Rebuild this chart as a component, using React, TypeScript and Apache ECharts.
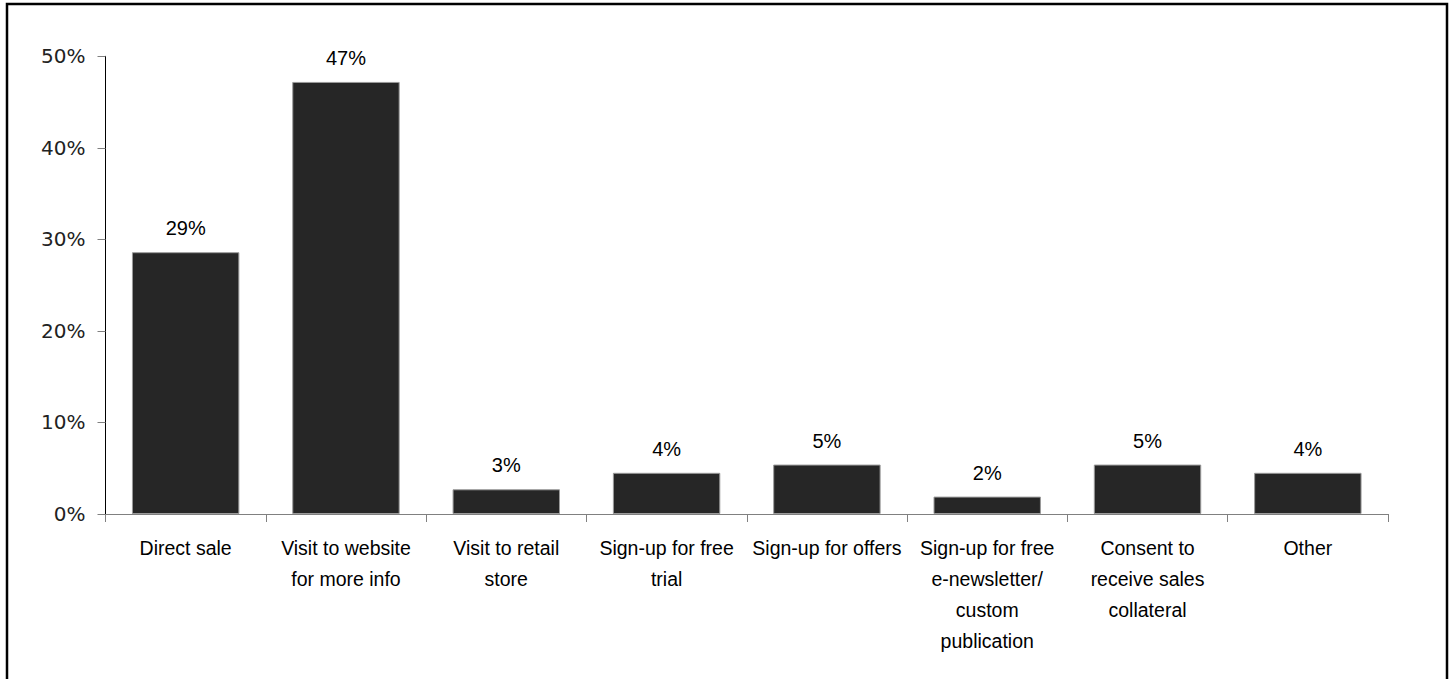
import React, { useEffect, useRef } from "react";
import * as echarts from "echarts";

const categories = [
  "Direct sale",
  "Visit to website\nfor more info",
  "Visit to retail\nstore",
  "Sign-up for free\ntrial",
  "Sign-up for offers",
  "Sign-up for free\ne-newsletter/\ncustom\npublication",
  "Consent to\nreceive sales\ncollateral",
  "Other",
];
const values = [28.6, 47.2, 2.7, 4.5, 5.4, 1.9, 5.4, 4.5];
const valueLabels = ["29%", "47%", "3%", "4%", "5%", "2%", "5%", "4%"];
const yTicks = [0, 10, 20, 30, 40, 50];

export default function App() {
  const ref = useRef<HTMLDivElement>(null);
  useEffect(() => {
    if (!ref.current) return;
    const chart = echarts.init(ref.current, null, { renderer: "svg" });
    chart.setOption({
      animation: false,
      backgroundColor: "#fff",
      graphic: [
        {
          type: "rect",
          shape: { x: 7, y: 4, width: 1440, height: 700 },
          style: { fill: "none", stroke: "#000", lineWidth: 2.5 },
          silent: true,
        },
      ],
      grid: { left: 105.5, right: 67, top: 56.3, bottom: 165, containLabel: false },
      xAxis: {
        type: "category",
        data: categories,
        axisLine: { show: true, lineStyle: { color: "#808080", width: 1 } },
        axisTick: { show: true, length: 8, lineStyle: { color: "#808080" } },
        axisLabel: {
          interval: 0,
          color: "#000",
          fontFamily: "'Liberation Sans', Arial, sans-serif",
          fontSize: 19.5,
          lineHeight: 31,
          margin: 18,
        },
      },
      yAxis: {
        type: "value",
        min: 0,
        max: 50,
        interval: 10,
        axisLine: { show: true, lineStyle: { color: "#000", width: 1 } },
        axisTick: { show: true, length: 8, inside: false, lineStyle: { color: "#808080" } },
        splitLine: { show: false },
        axisLabel: {
          color: "#222",
          fontFamily: "'DejaVu Sans', sans-serif",
          fontSize: 20,
          margin: 20,
          formatter: (v: number) => (yTicks.includes(v) ? v + "%" : ""),
        },
      },
      series: [
        {
          type: "bar",
          data: values,
          barCategoryGap: "33%",
          itemStyle: { color: "#262626", borderColor: "#9a9a9a", borderWidth: 1 },
          label: {
            show: true,
            position: "top",
            distance: 14,
            color: "#000",
            fontFamily: "'Liberation Sans', Arial, sans-serif",
            fontSize: 20,
            formatter: (p: any) => valueLabels[p.dataIndex],
          },
        },
      ],
    });
    return () => chart.dispose();
  }, []);
  return (
    <div
      ref={ref}
      style={{ position: "fixed", left: 0, top: 0, width: 1455, height: 679 }}
    />
  );
}
